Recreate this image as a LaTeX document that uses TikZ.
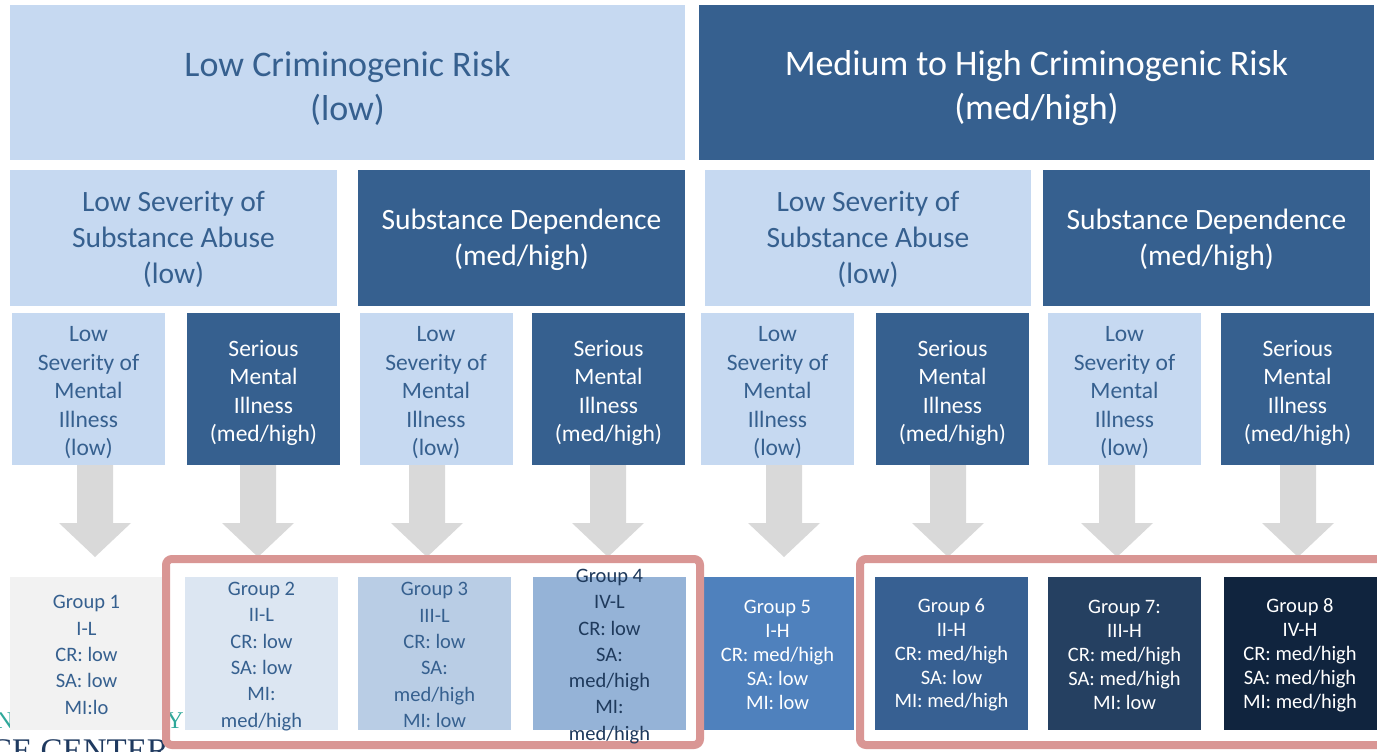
\documentclass[tikz,border=0pt]{standalone}
\usepackage{fontspec}
\setmainfont{Carlito}
\newfontfamily\logofont{Liberation Serif}
\usetikzlibrary{calc}
\definecolor{lightblue}{HTML}{C6D9F1}
\definecolor{darkblue}{HTML}{36608F}
\definecolor{textblue}{HTML}{36608F}
\definecolor{arrowgray}{HTML}{D9D9D9}
\definecolor{framered}{HTML}{D99694}
\definecolor{gA}{HTML}{F2F2F2}
\definecolor{gB}{HTML}{DCE6F2}
\definecolor{gC}{HTML}{B9CDE5}
\definecolor{gD}{HTML}{95B3D7}
\definecolor{gE}{HTML}{4F81BD}
\definecolor{gF}{HTML}{376092}
\definecolor{gG}{HTML}{254061}
\definecolor{gH}{HTML}{10243E}
\definecolor{gDtext}{HTML}{1F3A5C}
\definecolor{logoteal}{HTML}{2FA89A}
\definecolor{logonavy}{HTML}{1F3A60}
\newcommand{\blockarrow}[3]{%
  \coordinate (ba-top) at ($(#1.south)+(#3,0)$);
  \coordinate (ba-tip) at ($(ba-top |- #2.north)+(0,-20)$);
  \fill[arrowgray] ($(ba-top)+(-18,0)$) -- ($(ba-top)+(18,0)$) -- ($(ba-top)+(18,58)$)
    -- ($(ba-top)+(36,58)$) -- (ba-tip) -- ($(ba-top)+(-36,58)$) -- ($(ba-top)+(-18,58)$) -- cycle;
}
% #1 name, #2 box style, #3 text style, #4 centre, #5 text shift down, #6 text
\newcommand{\cellnode}[6]{%
  \node[#2] (#1) at #4 {};
  \node[#3] (#1-text) at ($(#1.center)+(0,#5)$) {#6};
}
\begin{document}
\begin{tikzpicture}[x=1pt,y=-1pt,
  cell/.style={rectangle, inner sep=0pt, outer sep=0pt, align=center},
  lightbox/.style={cell, fill=lightblue},
  darkbox/.style={cell, fill=darkblue},
  lighttxt/.style={cell, text=textblue},
  darktxt/.style={cell, text=white},
  topbox/.style={minimum width=675pt, minimum height=155pt},
  topfont/.style={font=\fontsize{36}{44}\selectfont},
  secbox/.style={minimum width=327pt, minimum height=136pt},
  secfont/.style={font=\fontsize{29.5}{36}\selectfont},
  mibox/.style={minimum width=153pt, minimum height=152pt},
  mifont/.style={font=\fontsize{23.5}{28.5}\selectfont},
  grp/.style={cell, minimum width=153pt, minimum height=153pt},
  grpfont/.style={cell, font=\fontsize{20.5}{26.3}\selectfont},
  grpfontR/.style={cell, font=\fontsize{20.5}{23.9}\selectfont},
  frame/.style={draw=framered, line width=8pt, rounded corners=6pt}
]
\useasboundingbox (0,0) rectangle (1377,752);
\fill[white] (0,0) rectangle (1377,752);

% logo fragments
\node[anchor=base west, inner sep=0pt, text=logoteal, font=\logofont\fontsize{24}{24}\selectfont] (logoN) at (-4,728) {N};
\node[anchor=base east, inner sep=0pt, text=logoteal, font=\logofont\fontsize{24}{24}\selectfont] (logoY) at (184,728) {Y};
\node[anchor=base west, inner sep=0pt, text=logonavy, font=\logofont\fontsize{33}{33}\selectfont] (logoC) at (-10,761) {CE CENTER};

% top row
\cellnode{t1}{lightbox, topbox}{lighttxt, topfont}{(347.5,82.5)}{6}{Low Criminogenic Risk\\(low)}
\cellnode{t2}{darkbox, topbox}{darktxt, topfont}{(1036.5,82.5)}{6}{Medium to High Criminogenic Risk\\(med/high)}

% second row
\cellnode{s1}{lightbox, secbox}{lighttxt, secfont}{(173.5,237.5)}{2}{Low Severity of\\Substance Abuse\\(low)}
\cellnode{s2}{darkbox, secbox}{darktxt, secfont}{(521.5,237.5)}{2}{Substance Dependence\\(med/high)}
\cellnode{s3}{lightbox, secbox, minimum width=326pt}{lighttxt, secfont}{(868,237.5)}{2}{Low Severity of\\Substance Abuse\\(low)}
\cellnode{s4}{darkbox, secbox}{darktxt, secfont}{(1206.5,237.5)}{2}{Substance Dependence\\(med/high)}

% third row
\cellnode{m1}{lightbox, mibox}{lighttxt, mifont}{(88.5,389)}{4}{Low\\Severity of\\Mental\\Illness\\(low)}
\cellnode{m2}{darkbox, mibox}{darktxt, mifont}{(263.5,389)}{4}{Serious\\Mental\\Illness\\(med/high)}
\cellnode{m3}{lightbox, mibox}{lighttxt, mifont}{(436,389)}{4}{Low\\Severity of\\Mental\\Illness\\(low)}
\cellnode{m4}{darkbox, mibox}{darktxt, mifont}{(608.5,389)}{4}{Serious\\Mental\\Illness\\(med/high)}
\cellnode{m5}{lightbox, mibox}{lighttxt, mifont}{(777.5,389)}{4}{Low\\Severity of\\Mental\\Illness\\(low)}
\cellnode{m6}{darkbox, mibox}{darktxt, mifont}{(952.5,389)}{4}{Serious\\Mental\\Illness\\(med/high)}
\cellnode{m7}{lightbox, mibox}{lighttxt, mifont}{(1124.5,389)}{4}{Low\\Severity of\\Mental\\Illness\\(low)}
\cellnode{m8}{darkbox, mibox}{darktxt, mifont}{(1297.5,389)}{4}{Serious\\Mental\\Illness\\(med/high)}

% group boxes
\node[grp, fill=gA] (g1) at (86.5,653.5) {};
\node[grp, fill=gB] (g2) at (261.5,653.5) {};
\node[grp, fill=gC] (g3) at (434.5,653.5) {};
\node[grp, fill=gD] (g4) at (609.5,653.5) {};
\node[grp, fill=gE] (g5) at (777.5,653.5) {};
\node[grp, fill=gF] (g6) at (951.5,653.5) {};
\node[grp, fill=gG] (g7) at (1124.5,653.5) {};
\node[grp, fill=gH] (g8) at (1300,653.5) {};

% block arrows
\blockarrow{m1}{g1}{6.5}
\blockarrow{m2}{g2}{-5.5}
\blockarrow{m3}{g3}{-9}
\blockarrow{m4}{g4}{-0.5}
\blockarrow{m5}{g5}{6.5}
\blockarrow{m6}{g6}{-4.5}
\blockarrow{m7}{g7}{-7.5}
\blockarrow{m8}{g8}{0.5}

% highlight frames
\draw[frame] (166,559) rectangle (700,745);
\draw[frame] (860,559) rectangle (1395,745);

% group texts
\node[grpfont, text=textblue] (g1t) at ($(g1)+(0,1.5)$) {Group 1\\I-L\\CR: low\\SA: low\\MI:lo};
\node[grpfont, text=textblue] (g2t) at ($(g2)+(0,3)$) {Group 2\\II-L\\CR: low\\SA: low\\MI:\\med/high};
\node[grpfont, text=textblue] (g3t) at ($(g3)+(0,1.5)$) {Group 3\\III-L\\CR: low\\SA:\\med/high\\MI: low};
\node[grpfont, text=gDtext] (g4t) at ($(g4)+(0,3)$) {Group 4\\IV-L\\CR: low\\SA:\\med/high\\MI:\\med/high};
\node[grpfontR, text=white] (g5t) at ($(g5)+(0,1.5)$) {Group 5\\I-H\\CR: med/high\\SA: low\\MI: low};
\node[grpfontR, text=white] (g6t) at ($(g6)+(0,1.5)$) {Group 6\\II-H\\CR: med/high\\SA: low\\MI: med/high};
\node[grpfontR, text=white] (g7t) at ($(g7)+(0,1.5)$) {Group 7:\\III-H\\CR: med/high\\SA: med/high\\MI: low};
\node[grpfontR, text=white] (g8t) at ($(g8)+(0,1.5)$) {Group 8\\IV-H\\CR: med/high\\SA: med/high\\MI: med/high};
\end{tikzpicture}
\end{document}
